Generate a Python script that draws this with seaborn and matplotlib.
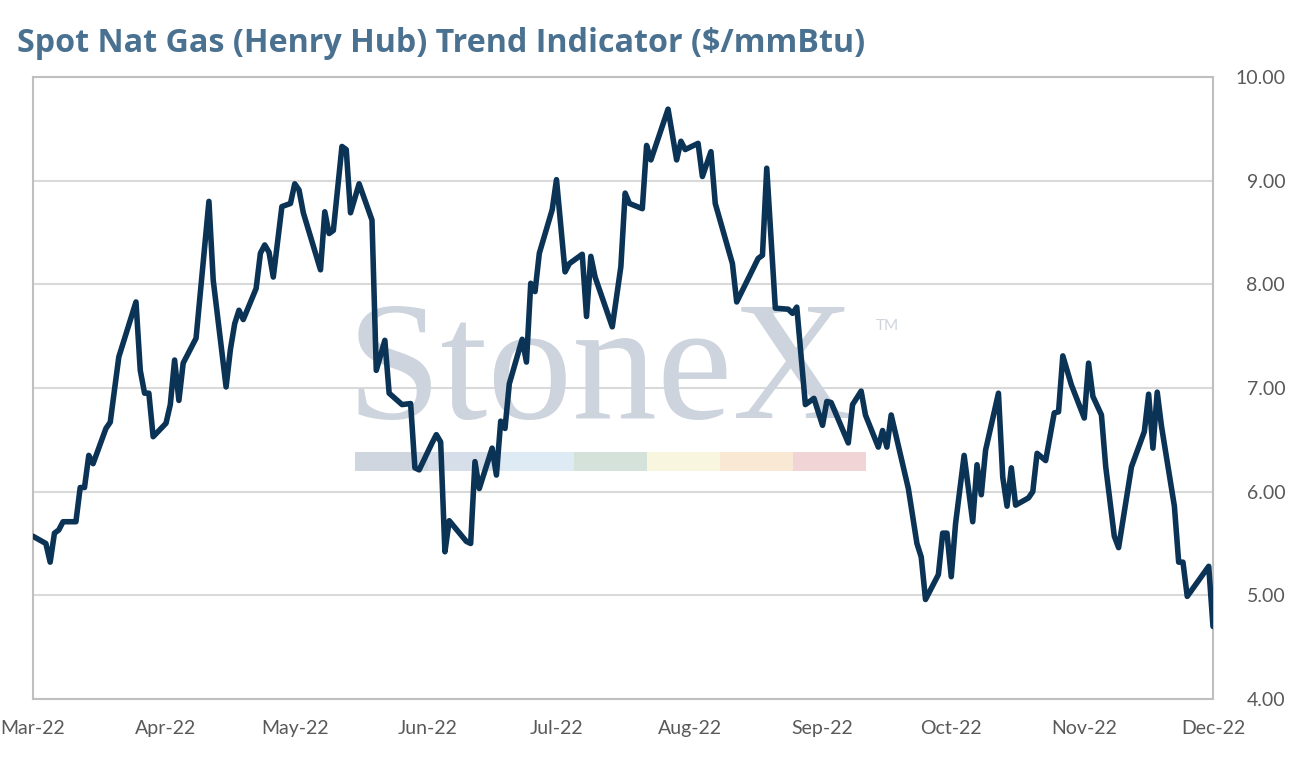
import pandas as pd
import seaborn as sns
import matplotlib.pyplot as plt
import matplotlib.dates as mdates
from matplotlib.patches import Rectangle
from matplotlib.ticker import MultipleLocator, FormatStrFormatter

# ------------------------------
# data
# ------------------------------
dates = [
    "2022-03-01", "2022-03-04", "2022-03-05", "2022-03-06", "2022-03-07", "2022-03-08",
    "2022-03-11", "2022-03-12", "2022-03-13", "2022-03-14", "2022-03-15", "2022-03-18",
    "2022-03-19", "2022-03-21", "2022-03-25", "2022-03-26", "2022-03-27", "2022-03-28",
    "2022-03-29", "2022-04-01", "2022-04-02", "2022-04-03", "2022-04-04", "2022-04-05",
    "2022-04-08", "2022-04-11", "2022-04-12", "2022-04-15", "2022-04-16", "2022-04-17",
    "2022-04-18", "2022-04-19", "2022-04-22", "2022-04-23", "2022-04-24", "2022-04-25",
    "2022-04-26", "2022-04-28", "2022-04-30", "2022-05-01", "2022-05-02", "2022-05-03",
    "2022-05-07", "2022-05-08", "2022-05-09", "2022-05-10", "2022-05-12", "2022-05-13",
    "2022-05-14", "2022-05-16", "2022-05-19", "2022-05-20", "2022-05-22", "2022-05-23",
    "2022-05-26", "2022-05-28", "2022-05-29", "2022-05-30", "2022-06-02", "2022-06-03",
    "2022-06-04", "2022-06-05", "2022-06-06", "2022-06-10", "2022-06-11", "2022-06-12",
    "2022-06-13", "2022-06-16", "2022-06-17", "2022-06-18", "2022-06-19", "2022-06-20",
    "2022-06-23", "2022-06-24", "2022-06-25", "2022-06-26", "2022-06-27", "2022-06-30",
    "2022-07-01", "2022-07-03", "2022-07-04", "2022-07-07", "2022-07-08", "2022-07-09",
    "2022-07-10", "2022-07-14", "2022-07-16", "2022-07-17", "2022-07-18", "2022-07-21",
    "2022-07-22", "2022-07-23", "2022-07-27", "2022-07-29", "2022-07-30", "2022-07-31",
    "2022-08-03", "2022-08-04", "2022-08-06", "2022-08-07", "2022-08-11", "2022-08-12",
    "2022-08-17", "2022-08-18", "2022-08-19", "2022-08-21", "2022-08-24", "2022-08-25",
    "2022-08-26", "2022-08-28", "2022-08-30", "2022-09-01", "2022-09-02", "2022-09-03",
    "2022-09-07", "2022-09-08", "2022-09-10", "2022-09-11", "2022-09-14", "2022-09-15",
    "2022-09-16", "2022-09-17", "2022-09-21", "2022-09-23", "2022-09-24", "2022-09-25",
    "2022-09-28", "2022-09-29", "2022-09-30", "2022-10-01", "2022-10-02", "2022-10-04",
    "2022-10-06", "2022-10-07", "2022-10-08", "2022-10-09", "2022-10-12", "2022-10-13",
    "2022-10-14", "2022-10-15", "2022-10-16", "2022-10-19", "2022-10-20", "2022-10-21",
    "2022-10-23", "2022-10-25", "2022-10-26", "2022-10-27", "2022-10-29", "2022-11-01",
    "2022-11-02", "2022-11-03", "2022-11-05", "2022-11-06", "2022-11-08", "2022-11-09",
    "2022-11-12", "2022-11-15", "2022-11-16", "2022-11-17", "2022-11-18", "2022-11-19",
    "2022-11-22", "2022-11-23", "2022-11-24", "2022-11-25", "2022-11-30", "2022-12-01",
]

prices = [
    5.57, 5.50, 5.32, 5.60, 5.63, 5.71,
    5.71, 6.04, 6.04, 6.35, 6.27, 6.61,
    6.67, 7.30, 7.83, 7.17, 6.95, 6.95,
    6.53, 6.66, 6.84, 7.27, 6.88, 7.24,
    7.48, 8.80, 8.04, 7.01, 7.37, 7.62,
    7.75, 7.66, 7.96, 8.30, 8.38, 8.31,
    8.07, 8.75, 8.78, 8.97, 8.91, 8.69,
    8.14, 8.70, 8.49, 8.52, 9.33, 9.30,
    8.69, 8.97, 8.62, 7.17, 7.46, 6.95,
    6.84, 6.85, 6.23, 6.21, 6.47, 6.55,
    6.48, 5.42, 5.72, 5.52, 5.50, 6.29,
    6.03, 6.42, 6.16, 6.68, 6.61, 7.04,
    7.47, 7.25, 8.01, 7.93, 8.30, 8.72,
    9.01, 8.12, 8.20, 8.29, 7.69, 8.27,
    8.07, 7.59, 8.17, 8.88, 8.78, 8.73,
    9.34, 9.20, 9.69, 9.20, 9.38, 9.30,
    9.36, 9.04, 9.28, 8.78, 8.20, 7.83,
    8.25, 8.28, 9.12, 7.77, 7.76, 7.72,
    7.78, 6.84, 6.90, 6.64, 6.87, 6.86,
    6.47, 6.84, 6.97, 6.74, 6.43, 6.59,
    6.43, 6.74, 6.03, 5.50, 5.37, 4.96,
    5.20, 5.60, 5.60, 5.18, 5.69, 6.35,
    5.71, 6.26, 5.97, 6.40, 6.95, 6.14,
    5.86, 6.23, 5.87, 5.94, 6.00, 6.37,
    6.30, 6.76, 6.77, 7.31, 7.03, 6.71,
    7.24, 6.92, 6.74, 6.24, 5.57, 5.46,
    6.24, 6.58, 6.94, 6.42, 6.96, 6.63,
    5.86, 5.32, 5.32, 4.99, 5.28, 4.70,
]

title = "Spot Nat Gas (Henry Hub) Trend Indicator ($/mmBtu)"
x_start, x_end = "2022-03-01", "2022-12-01"
y_min, y_max = 4, 10

df = pd.DataFrame({"date": pd.to_datetime(dates), "price": prices})

# ------------------------------
# style
# ------------------------------
sns.set_style("white")
plt.rcParams["font.family"] = ["Lato", "DejaVu Sans"]

LINE_COL = "#0b3356"
TITLE_COL = "#4a7190"
TICK_COL = "#595959"
GRID_COL = "#d9d9d9"
BORDER_COL = "#bfbfbf"
MARK_COL = "#cdd4dd"

fig = plt.figure(figsize=(12.92, 7.61), dpi=100)
ax = fig.add_axes([33 / 1292, 1 - 699 / 761, 1180 / 1292, 622 / 761])

sns.lineplot(data=df, x="date", y="price", ax=ax, color=LINE_COL,
             linewidth=4.0, zorder=3)

ax.set_xlim(pd.Timestamp(x_start), pd.Timestamp(x_end))
ax.set_ylim(y_min, y_max)
ax.set_xlabel("")
ax.set_ylabel("")

ax.xaxis.set_major_locator(mdates.MonthLocator())
ax.xaxis.set_major_formatter(mdates.DateFormatter("%b-%y"))
ax.yaxis.set_major_locator(MultipleLocator(1))
ax.yaxis.set_major_formatter(FormatStrFormatter("%.2f"))
ax.yaxis.tick_right()

ax.tick_params(axis="x", length=0, pad=15, labelsize=14, labelcolor=TICK_COL)
ax.tick_params(axis="y", length=0, pad=52, labelsize=14, labelcolor=TICK_COL)
for lbl in ax.get_yticklabels():
    lbl.set_horizontalalignment("right")

ax.set_axisbelow(True)
ax.grid(axis="y", color=GRID_COL, linewidth=1.5)
for sp in ax.spines.values():
    sp.set_visible(True)
    sp.set_color(BORDER_COL)
    sp.set_linewidth(1.5)

# StoneX watermark behind the line
ax.text(0.266, 0.452, "StoneX", transform=ax.transAxes, fontsize=122,
        family="Liberation Serif", color=MARK_COL, va="baseline", ha="left",
        zorder=1.5)
ax.text(0.714, 0.594, "TM", transform=ax.transAxes, fontsize=11,
        color=MARK_COL, va="baseline", ha="left", zorder=1.5)
band_cols = ["#cfd6df", "#d6dfe9", "#deeaf4", "#d4e2d9", "#f8f6df", "#f9e8d3", "#f1d5d6"]
for i, c in enumerate(band_cols):
    ax.add_patch(Rectangle((0.2729 + i * 0.0619, 0.3666), 0.0619, 0.0305,
                           transform=ax.transAxes, facecolor=c,
                           edgecolor="none", zorder=1.5))

fig.text(17 / 1292, 1 - 43 / 761, title, fontsize=23.2, fontweight="bold",
         family=["Open Sans", "DejaVu Sans"], color=TITLE_COL,
         va="center", ha="left")

fig.savefig("out.png", dpi=100)
